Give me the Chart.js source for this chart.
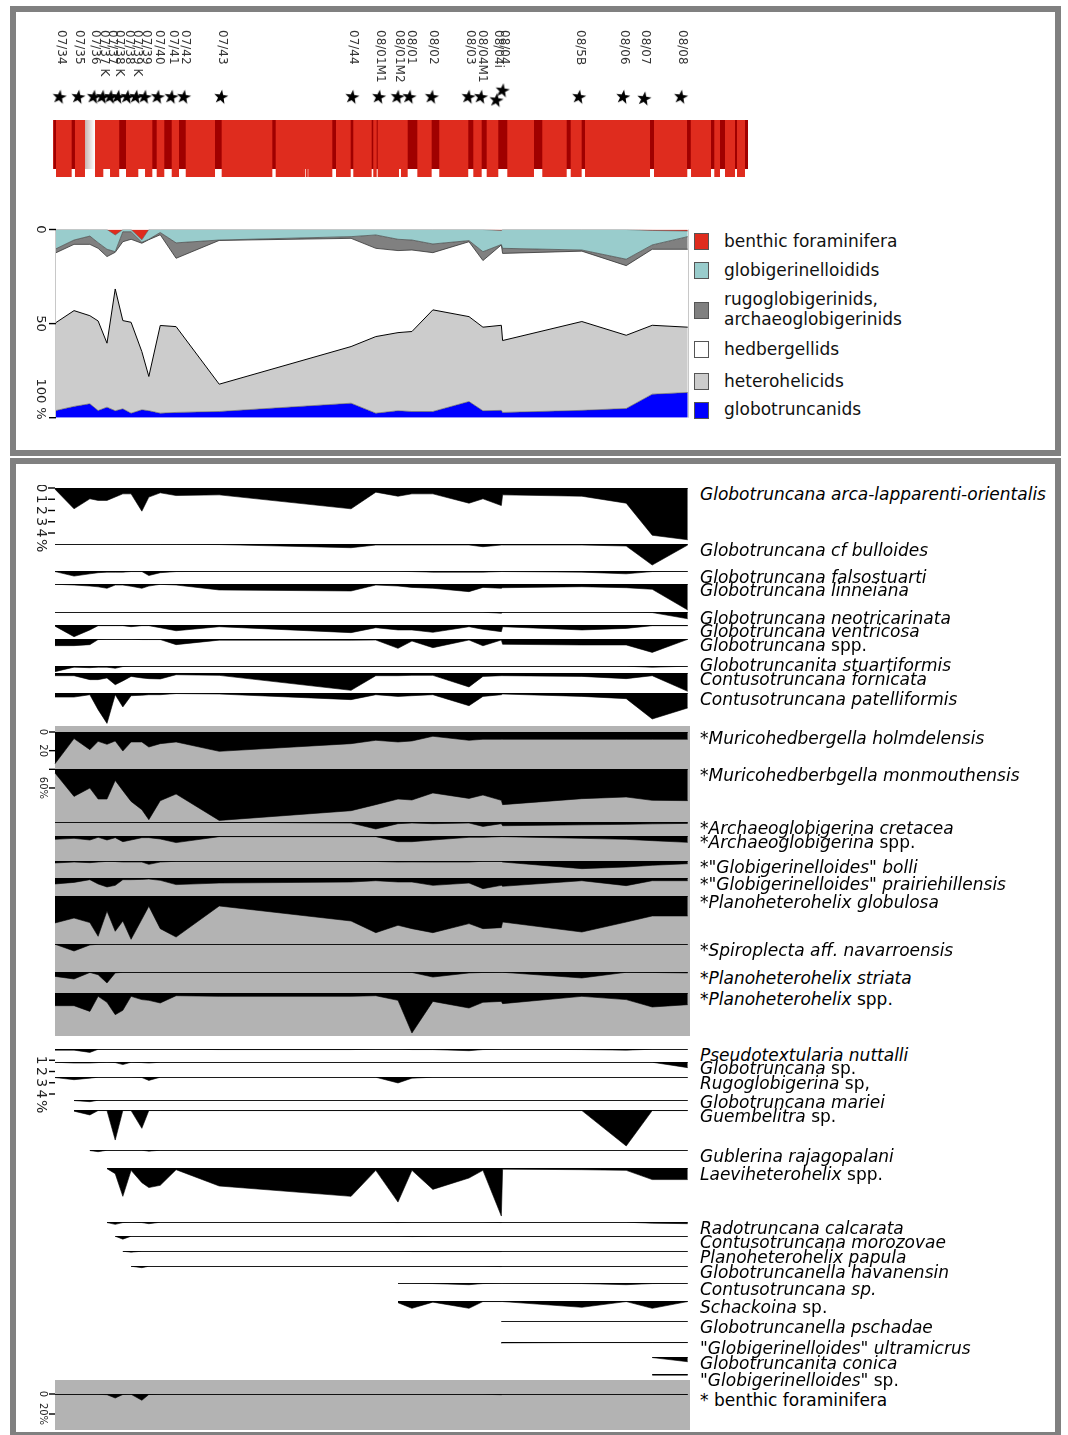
<!DOCTYPE html>
<html><head><meta charset="utf-8">
<script src="https://cdn.jsdelivr.net/npm/chart.js@4.4.1/dist/chart.umd.min.js"></script>
<style>
html,body{margin:0;padding:0;background:#fff}
body{position:relative;width:1068px;height:1435px;overflow:hidden;font-family:"DejaVu Sans",sans-serif}
.panel{position:absolute;border:6px solid #808080;box-sizing:border-box}
.bg{position:absolute;background:#b3b3b3}
canvas{position:absolute;display:block}
.lab{position:absolute;font-size:17px;line-height:18px;white-space:nowrap;color:#000}
.leg{position:absolute;font-size:17px;line-height:18px;white-space:nowrap;color:#111}
.sw{position:absolute;width:13px;height:15px;border:1px solid #555}
</style></head><body>
<div class="panel" style="left:10px;top:6px;width:1051px;height:450px"></div>
<div class="panel" style="left:10px;top:458px;width:1051px;height:980px"></div>
<div class="bg" style="left:55px;top:726px;width:635px;height:310px"></div>
<div class="bg" style="left:55px;top:1380px;width:635px;height:50px"></div>
<script>
// ================= DATA =================
const sampleNames = ['07/34','07/35','07/36','07/37 K','07/37','07/38 K','07/38','07/39 K','07/39','07/40','07/41','07/42','07/43','07/44','08/01M1','08/01M2','08/01','08/02','08/03','08/04M1','08/04i','08/04','08/5B','08/06','08/07','08/08'];
// stratigraphic position of the samples (m)
const samplePos = [0.00,0.30,0.55,0.68,0.82,0.95,1.07,1.20,1.37,1.48,1.66,1.91,2.59,4.67,5.06,5.41,5.63,5.96,6.53,6.75,7.04,7.06,8.31,9.01,9.42,9.98];
// position of the sample markers on the log (m)
const markerPos = [-0.03,0.27,0.52,0.66,0.79,0.91,1.06,1.20,1.34,1.55,1.77,1.97,2.57,4.68,5.11,5.41,5.60,5.96,6.55,6.75,7.00,7.10,8.33,9.04,9.38,9.97];

// lithology log (m)
const lithoExtent = [[-0.03,10.93]];
const marlIntervals = [[-0.027,0.016],[0.263,0.315],[1.013,1.120],[1.535,1.604],[1.724,1.841],[1.956,2.062],[2.524,2.629],[3.428,3.481],[4.374,4.432],[4.664,4.705],[4.995,5.020],[5.074,5.090],[5.563,5.715],[5.941,6.061],[6.519,6.598],[6.730,6.809],[6.992,7.134],[7.555,7.686],[8.071,8.134],[8.307,8.360],[9.385,9.448],[9.969,10.028],[10.347,10.399],[10.489,10.568],[10.726,10.757],[10.883,10.931]];
const bedIntervals = [[0.016,0.263],[0.315,0.473],[0.631,0.762],[0.868,1.013],[1.120,1.314],[1.420,1.535],[1.604,1.724],[1.841,1.956],[2.062,2.524],[2.629,3.428],[3.481,3.916],[3.924,3.948],[3.959,3.987],[3.995,4.374],[4.432,4.664],[4.705,4.995],[5.020,5.074],[5.090,5.426],[5.457,5.563],[5.715,5.941],[6.061,6.518],[6.598,6.730],[6.809,6.992],[7.134,7.555],[7.686,8.071],[8.134,8.307],[8.360,9.385],[9.448,9.973],[10.032,10.347],[10.399,10.489],[10.568,10.726],[10.757,10.883]];
const gapIntervals = [[0.473,0.631]];

// group composition (%)
const groupNames = ['benthic foraminifera','globigerinelloidids','rugoglobigerinids,|archaeoglobigerinids','hedbergellids','heterohelicids','globotruncanids'];
const benthicPct        = [0,0,0,0,0,2.9,0,0,5.5,0,0,0,0,0,0,0,0,0,0,0,0.5,0,0,0,0.5,0.8];
const globigerinelloidPct = [10.5,5.6,3.5,7.0,10.5,8.9,1.2,1.2,1.3,5.2,1.6,7.1,5.6,3.8,2.9,5.2,5.6,7.7,5.9,11.8,7.5,10.0,10.9,15.8,7.7,3.0];
const rugoArchaeoPct    = [2.1,2.3,4.4,3.0,3.9,0.3,5.3,4.0,0.5,0.2,1.2,8.2,0.2,0.9,7.1,6.0,5.3,4.6,0.6,4.7,0.2,2.7,0.6,3.4,2.3,6.7];
const hedbergellidPct   = [37.2,35.2,37.9,38.6,46.0,19.5,41.9,44.1,57.6,72.7,48.2,36.3,76.4,57.5,46.9,43.6,43.3,30.4,39.8,35.4,42.7,46.3,37.4,37.0,40.4,41.4];
const heterohelicidPct  = [46.5,50.9,46.8,47.6,34.0,64.7,46.9,48.3,30.9,18.2,46.6,45.6,14.5,30.1,40.7,41.5,42.5,54.0,45.1,44.4,45.2,38.2,47.2,38.9,36.6,34.7];
const globotruncanidPct = [3.7,6.0,7.4,3.8,5.6,3.7,4.7,2.4,4.2,3.7,2.4,2.8,3.3,7.7,2.4,3.7,3.3,3.3,8.6,3.7,3.9,2.8,3.9,4.9,12.5,13.4];

// species abundances (%), null = not present
const gtArca        = [0.1,1.85,0.96,1.1,1.1,0.8,0.52,0.52,2.06,0.81,0.43,0.67,0.61,1.85,0.37,0.73,0.52,0.52,1.35,0.96,1.56,0.61,0.73,1.35,4.2,4.6];
const gtBulloides   = [0.03,0.03,0.03,0.03,0.03,0.03,0.03,0.03,0.03,0.03,0.03,0.03,0.05,0.33,0.09,0.09,0.09,0.09,0.09,0.24,0.09,0.09,0.09,0.18,1.87,0.09];
const gtFalsostuarti= [0.05,0.45,0.25,0.15,0.1,0.1,0.1,0.05,0.05,0.4,0.15,0.05,0.03,0.03,0.03,0.03,0.05,0.1,0.1,0.1,0.05,0.05,0.1,0.25,0.05,0.03];
const gtLinneiana   = [0.02,0.09,0.18,0.25,0.38,0.09,0.09,0.2,0.38,0.18,0.03,0.09,0.53,0.62,0.09,0.18,0.3,0.38,0.68,0.3,0.38,0.33,0.24,0.33,0.47,2.31];
const gtNeotricarinata = [0.02,0.02,0.02,0.02,0.02,0.02,0.02,0.02,0.02,0.02,0.02,0.02,0.02,0.02,0.02,0.02,0.02,0.02,0.02,0.02,0.1,0.02,0.02,0.02,0.05,0.6];
const gtVentricosa  = [0.1,1.04,0.44,0.06,0.06,0.06,0.06,0.15,0.06,0.06,0.24,0.51,0.15,0.68,0.24,0.44,0.44,0.65,0.15,0.38,0.59,0.15,0.44,0.3,0.06,0.06];
const gtSpp         = [0.59,0.59,0.5,0.05,0.03,0.03,0.03,0.03,0.05,0.05,0.05,0.5,0.1,0.1,0.09,0.83,0.18,0.77,0.09,0.6,0.09,0.47,0.53,0.53,1.19,0.03];
const gtaStuartiformis = [0.5,0.1,0.15,0.1,0.1,0.2,0.05,0.02,0.02,0.02,0.02,0.02,0.02,0.02,0.02,0.02,0.02,0.02,0.02,0.02,0.02,0.02,0.02,0.02,0.1,0.02];
const ctFornicata   = [0.24,0.24,0.59,0.59,0.44,1.04,0.7,0.3,0.44,0.5,0.53,0.15,0.21,1.54,0.24,0.24,0.21,0.21,1.24,0.3,0.24,0.24,0.3,0.5,0.24,1.63];
const ctPatelliformis = [0.36,0.36,0.15,1.48,2.7,0.15,1.24,0.24,0.2,0.15,0.15,0.05,0.09,0.59,0.15,0.3,0.24,0.15,1.13,0.3,0.15,0.09,0.3,0.5,2.31,1.33];

const muHolmdelensis = [34,7.1,18.9,10,13.2,9.6,20.4,10.7,10.7,16.1,12.5,10.7,20.7,12.5,8.9,10.7,9.6,4.6,8.9,7.8,7.8,7.8,7.8,7.8,7.8,7.8];
const muMonmouthensis = [4.3,29.4,20.4,32.2,32.2,12.2,23.2,34.7,43.6,54.3,34,26.8,55.1,44.7,38.2,32.2,33.2,25.7,31.5,27.9,33.6,38.2,31.8,30,33.6,33.9];
const arCretacea    = [0.3,0.3,0.3,0.3,0.3,0.3,0.3,0.3,0.3,0.3,0.3,0.3,0.3,1.1,7.5,1.8,1.1,1.8,1.1,4.7,1.8,4.0,3.0,2.5,2.0,1.5];
const arSpp         = [3.6,2.5,4.3,1.4,4.3,1.8,6.1,4.3,1.8,1.8,3.2,7.1,0.7,0.7,0.7,6.1,6.1,4.3,1.4,1.4,0.7,0.7,2.5,3.6,5.0,6.8];
const glBolli       = [2.1,1.1,1.8,1.1,0.4,0.6,1.1,1.1,1.1,3.6,1.1,0.3,0.3,0.3,0.5,1.1,1.0,1.1,1.1,0.3,0.4,1.1,8.2,6.4,4.6,2.9];
const glPrairiehillensis = [6.4,4.7,1.8,6.4,9.6,7.9,1.8,1.8,1.5,1.1,2.5,7.1,5.4,4.3,2.9,4.3,4.3,7.9,5.4,11.4,7.9,8.9,2.9,8.2,2.9,2.9];
const phGlobulosa   = [28.9,23.6,28.5,43.2,16.1,37.8,26.8,46.4,25,11,35,44,10.7,26.8,39.3,31.4,35,39.3,29.6,35,33.9,27.9,38.6,27.9,21.4,21.4];
const spNavarroensis = [0.3,7.5,1.0,0.3,0.3,0.3,0.3,0.3,0.3,0.3,0.3,0.3,0.3,0.3,0.3,0.3,0.3,0.3,0.3,0.3,0.3,0.3,0.3,0.3,0.3,0.3];
const phStriata     = [4.7,7.5,0.5,2.9,11.8,1.0,0.3,0.3,0.3,0.3,0.3,0.3,0.3,0.3,0.3,0.3,0.5,5.4,1.0,0.5,0.3,0.3,6.4,0.3,0.5,1.0];
const phSpp         = [13.6,13.6,19.7,3.6,10,23.2,18.6,3.6,7.1,7.9,10.7,2.9,3.6,3.6,2.9,7.9,42.9,9,16.1,10,9,11.4,3.6,7.1,15,12.5];

const psNuttalli    = [0.1,0.1,0.3,0.03,0.02,0.02,0.02,0.02,0.02,0.02,0.02,0.02,0.05,0.05,0.02,0.02,0.05,0.05,0.15,0.05,0.02,0.02,0.05,0.1,0.02,0.02];
const gtSp          = [0.02,0.09,0.09,0.05,0.02,0.05,0.23,0.02,0.05,0.09,0.02,0.02,0.02,0.02,0.02,0.02,0.02,0.02,0.02,0.02,0.02,0.02,0.02,0.02,0.02,0.5];
const rgSp          = [0.05,0.24,0.1,0.02,0.02,0.02,0.02,0.02,0.05,0.3,0.02,0.02,0.02,0.02,0.02,0.53,0.1,0.02,0.02,0.02,0.02,0.02,0.02,0.02,0.02,0.02];
const gtMariei      = [null,0.05,0.15,0.02,0.02,0.02,0.02,0.02,0.02,0.02,0.02,0.02,0.02,0.02,0.02,0.02,0.02,0.02,0.02,0.02,0.02,0.02,0.02,0.02,0.02,0.02];
const guSp          = [null,0.1,0.44,0.05,0.05,2.67,0.05,0.05,1.63,0.05,0.05,0.05,0.05,0.05,0.05,0.05,0.05,0.05,0.05,0.05,0.05,0.05,0.05,3.2,0.05,0.05];
const guRajagopalani= [null,null,0.05,0.15,0.02,0.02,0.02,0.02,0.02,0.1,0.02,0.02,0.02,0.02,0.02,0.02,0.02,0.02,0.02,0.02,0.02,0.02,0.02,0.02,0.02,0.02];
const laSpp         = [null,null,null,null,0.06,0.5,2.52,0.21,1.3,1.74,1.54,0.15,1.6,2.52,0.21,3.03,0.21,1.9,0.89,0.21,4.27,0.1,0.15,0.21,1.03,1.03];
const raCalcarata   = [null,null,null,null,0.05,0.21,0.05,0.02,0.05,0.15,0.02,0.02,0.02,0.02,0.02,0.05,0.02,0.02,0.02,0.02,0.05,0.02,0.02,0.02,0.1,0.15];
const ctMorozovae   = [null,null,null,null,null,0.02,0.28,0.02,0.02,0.02,0.02,0.02,0.02,0.02,0.02,0.02,0.05,0.02,0.02,0.02,0.02,0.02,0.02,0.02,0.02,0.02];
const phPapula      = [null,null,null,null,null,null,0.02,0.1,0.02,0.02,0.02,0.02,0.02,0.02,0.02,0.02,0.05,0.05,0.05,0.05,0.05,0.02,0.02,0.02,0.02,0.02];
const gnHavanensin  = [null,null,null,null,null,null,null,0.02,0.15,0.02,0.02,0.02,0.02,0.02,0.02,0.02,0.02,0.02,0.02,0.02,0.05,0.02,0.02,0.02,0.02,0.02];
const ctSp          = [null,null,null,null,null,null,null,null,null,null,null,null,null,null,null,0.02,0.02,0.05,0.15,0.05,0.02,0.02,0.05,0.15,0.05,0.02];
const scSp          = [null,null,null,null,null,null,null,null,null,null,null,null,null,null,null,0.15,0.65,0.1,0.65,0.05,0.05,0.05,0.56,0.05,0.65,0.05];
const gnPschadae    = [null,null,null,null,null,null,null,null,null,null,null,null,null,null,null,null,null,null,null,null,0.02,0.02,0.02,0.02,0.02,0.02];
const glUltramicrus = [null,null,null,null,null,null,null,null,null,null,null,null,null,null,null,null,null,null,null,null,0.1,0.08,0.05,0.05,0.05,0.05];
const gtaConica     = [null,null,null,null,null,null,null,null,null,null,null,null,null,null,null,null,null,null,null,null,null,null,null,null,0.05,0.42];
const glSp          = [null,null,null,null,null,null,null,null,null,null,null,null,null,null,null,null,null,null,null,null,null,null,null,null,0.1,0.1];
const benthicForams = [0.3,0.3,0.3,0.3,0.7,4.0,0.5,0.3,6.3,0.5,0.3,0.3,0.3,0.3,0.3,0.3,0.3,0.3,0.3,0.3,0.7,0.3,0.3,0.3,0.3,0.5];

// tick labels
const tickTop = [0,50,100];
const tickA = [0,1,2,3,4];
const tickB = [0,20,40,60];
const tickC = [1,2,3,4];
const tickD = [0,20];

// ================= LAYOUT / STYLE =================
const X0 = 55, PXM = 63.4;           // page px of position 0, px per metre
const PX_PER_PCT = {A:11.25, B:0.933, D:1.0};
const RED = '#df2c1e', DARKRED = '#a00000';
const starLift = [0.45,0.45,0.45,0.45,0.45,0.45,0.45,0.45,0.45,0.45,0.45,0.45,0.45,0.45,0.45,0.45,0.45,0.45,0.45,0.45,0.2,0.95,0.45,0.45,0.32,0.45];

const AXES = {
  top:{ticks:tickTop, from:49, to:56, lx:40.5, font:'13px "DejaVu Sans"', vlines:true,
       labels:[{v:0,t:'0'},{v:50,t:'50'},{v:100,t:'100 %',a:'end',o:2}]},
  A:{ticks:tickA, from:48, to:55, lx:41, font:'14px "DejaVu Sans"',
       labels:tickA.map(v=>({v,t:String(v)})).concat([{v:4,t:'%',a:'start',o:6}])},
  B:{ticks:tickB, from:49, to:55, lx:42.5, font:'10px "DejaVu Sans"',
       labels:[{v:0,t:'0'},{v:20,t:'20'},{v:60,t:'60%'}]},
  C:{ticks:tickC, from:49, to:55, lx:41, font:'14px "DejaVu Sans"',
       labels:tickC.map(v=>({v,t:String(v)})).concat([{v:4,t:'%',a:'start',o:6}])},
  D:{ticks:tickD, from:49, to:55, lx:42.5, font:'10px "DejaVu Sans"',
       labels:[{v:0,t:'0'},{v:20,t:'20%'}]}
};
const AXIS_ROOM = {A:66, B:72, C:66, D:38};

const tracks = [
 {html:'<i>Globotruncana arca-lapparenti-orientalis</i>', v:gtArca, base:487.5, s:'A', axis:'A'},
 {html:'<i>Globotruncana cf bulloides</i>', v:gtBulloides, base:544, s:'A'},
 {html:'<i>Globotruncana falsostuarti</i>', v:gtFalsostuarti, base:570.7, s:'A'},
 {html:'<i>Globotruncana linneiana</i>', v:gtLinneiana, base:584, s:'A'},
 {html:'<i>Globotruncana neotricarinata</i>', v:gtNeotricarinata, base:611.7, s:'A'},
 {html:'<i>Globotruncana ventricosa</i>', v:gtVentricosa, base:625, s:'A'},
 {html:'<i>Globotruncana</i> spp.', v:gtSpp, base:639, s:'A'},
 {html:'<i>Globotruncanita stuartiformis</i>', v:gtaStuartiformis, base:666, s:'A', ly:665},
 {html:'<i>Contusotruncana fornicata</i>', v:ctFornicata, base:673.3, s:'A'},
 {html:'<i>Contusotruncana patelliformis</i>', v:ctPatelliformis, base:693.3, s:'A'},
 {html:'*<i>Muricohedbergella holmdelensis</i>', v:muHolmdelensis, base:731.7, s:'B', axis:'B'},
 {html:'*<i>Muricohedberbgella monmouthensis</i>', v:muMonmouthensis, base:769.3, s:'B'},
 {html:'*<i>Archaeoglobigerina cretacea</i>', v:arCretacea, base:822.3, s:'B'},
 {html:'*<i>Archaeoglobigerina</i> spp.', v:arSpp, base:836, s:'B'},
 {html:'*"<i>Globigerinelloides</i>" <i>bolli</i>', v:glBolli, base:860.7, s:'B'},
 {html:'*"<i>Globigerinelloides</i>" <i>prairiehillensis</i>', v:glPrairiehillensis, base:878.3, s:'B'},
 {html:'*<i>Planoheterohelix globulosa</i>', v:phGlobulosa, base:895.7, s:'B'},
 {html:'*<i>Spiroplecta aff. navarroensis</i>', v:spNavarroensis, base:944, s:'B'},
 {html:'*<i>Planoheterohelix striata</i>', v:phStriata, base:972.3, s:'B'},
 {html:'*<i>Planoheterohelix</i> spp.', v:phSpp, base:993.3, s:'B'},
 {html:'<i>Pseudotextularia nuttalli</i>', v:psNuttalli, base:1049, s:'A', axis:'C'},
 {html:'<i>Globotruncana</i> sp.', v:gtSp, base:1061.7, s:'A'},
 {html:'<i>Rugoglobigerina</i> sp,', v:rgSp, base:1077.3, s:'A'},
 {html:'<i>Globotruncana mariei</i>', v:gtMariei, base:1100, s:'A', ly:1102},
 {html:'<i>Guembelitra</i> sp.', v:guSp, base:1110, s:'A'},
 {html:'<i>Gublerina rajagopalani</i>', v:guRajagopalani, base:1150, s:'A'},
 {html:'<i>Laeviheterohelix</i> spp.', v:laSpp, base:1167.7, s:'A'},
 {html:'<i>Radotruncana calcarata</i>', v:raCalcarata, base:1221.7, s:'A'},
 {html:'<i>Contusotruncana morozovae</i>', v:ctMorozovae, base:1236, s:'A'},
 {html:'<i>Planoheterohelix papula</i>', v:phPapula, base:1250.7, s:'A'},
 {html:'<i>Globotruncanella havanensin</i>', v:gnHavanensin, base:1265.7, s:'A'},
 {html:'<i>Contusotruncana sp.</i>', v:ctSp, base:1283.3, s:'A'},
 {html:'<i>Schackoina</i> sp.', v:scSp, base:1301, s:'A'},
 {html:'<i>Globotruncanella pschadae</i>', v:gnPschadae, base:1321, s:'A'},
 {html:'"<i>Globigerinelloides</i>" <i>ultramicrus</i>', v:glUltramicrus, base:1341.7, s:'A'},
 {html:'<i>Globotruncanita conica</i>', v:gtaConica, base:1356.7, s:'A'},
 {html:'"<i>Globigerinelloides</i>" sp.', v:glSp, base:1374, s:'A'},
 {html:'* benthic foraminifera', v:benthicForams, base:1394.3, s:'D', axis:'D'}
];

// ================= HELPERS =================
Chart.defaults.font.family = '"DejaVu Sans", sans-serif';

const axisPlugin = {
  id:'axisTicks',
  afterDraw(chart, args, opts){
    if(!opts || !opts.key) return;
    const spec = AXES[opts.key];
    const ctx = chart.ctx, ys = chart.scales.y, xs = chart.scales.x;
    const L = parseFloat(chart.canvas.style.left);
    ctx.save();
    if (spec.vlines){
      ctx.strokeStyle = '#c8c8c8'; ctx.lineWidth = 1;
      [samplePos[0], samplePos[samplePos.length-1]].forEach(p=>{
        const px = Math.round(xs.getPixelForValue(p))+0.5;
        ctx.beginPath(); ctx.moveTo(px, ys.getPixelForValue(0)); ctx.lineTo(px, ys.getPixelForValue(100)); ctx.stroke();
      });
    }
    ctx.strokeStyle = '#000'; ctx.lineWidth = 1.4;
    spec.ticks.forEach(v=>{
      const py = ys.getPixelForValue(v);
      ctx.beginPath(); ctx.moveTo(spec.from - L, py); ctx.lineTo(spec.to - L, py); ctx.stroke();
    });
    ctx.fillStyle = '#222'; ctx.font = spec.font;
    spec.labels.forEach(it=>{
      const py = ys.getPixelForValue(it.v) + (it.o||0);
      ctx.save(); ctx.translate(spec.lx - L, py); ctx.rotate(Math.PI/2);
      ctx.textAlign = it.a || 'center'; ctx.textBaseline = 'middle';
      ctx.fillText(it.t, 0, 0); ctx.restore();
    });
    ctx.restore();
  }
};
const sampleLabelPlugin = {
  id:'sampleLabels',
  afterDraw(chart, args, opts){
    if(!opts || !opts.on) return;
    const ctx = chart.ctx, xs = chart.scales.x;
    const T = parseFloat(chart.canvas.style.top);
    ctx.save(); ctx.fillStyle = '#333'; ctx.font = '12px "DejaVu Sans"';
    ctx.textAlign = 'left'; ctx.textBaseline = 'middle';
    markerPos.forEach((m,i)=>{
      ctx.save(); ctx.translate(xs.getPixelForValue(m)+1.5, opts.top - T); ctx.rotate(Math.PI/2);
      ctx.fillText(sampleNames[i], 0, 0); ctx.restore();
    });
    ctx.restore();
  }
};
Chart.register(axisPlugin, sampleLabelPlugin);

function addCanvas(left, top, width, height){
  const c = document.createElement('canvas');
  c.width = width; c.height = height;
  c.style.left = left+'px'; c.style.top = top+'px';
  c.style.width = width+'px'; c.style.height = height+'px';
  document.body.appendChild(c);
  return c;
}
function opts(left, width, yOpts, padding, plugins){
  return {
    responsive:false, animation:false, events:[], devicePixelRatio:1,
    layout:{padding:Object.assign({left:0,right:0,top:0,bottom:0}, padding||{})},
    scales:{
      x:{type:'linear', display:false, min:(left-X0)/PXM, max:(left+width-X0)/PXM},
      y:Object.assign({type:'linear', display:false}, yOpts)
    },
    plugins:Object.assign({legend:{display:false}, tooltip:{enabled:false}}, plugins||{}),
    elements:{point:{radius:0, hoverRadius:0, hitRadius:0}, line:{tension:0}}
  };
}
function rectPoints(intervals){
  const pts = [];
  intervals.forEach(([a,b])=>{ pts.push({x:a,y:0},{x:a,y:1},{x:b,y:1},{x:b,y:0}); });
  return pts;
}
function addLabel(cls, html, x, yc){
  const d = document.createElement('div'); d.className = cls; d.innerHTML = html;
  d.style.left = x+'px'; d.style.top = (yc-9)+'px';
  document.body.appendChild(d);
}

// ================= SAMPLE LABELS + MARKERS =================
const STAR = (()=>{
  const c = document.createElement('canvas'); c.width = 16; c.height = 16;
  const g = c.getContext('2d'); g.fillStyle = '#000'; g.beginPath();
  for (let i=0;i<10;i++){ const r = i%2 ? 3.0 : 7.5; const a = -Math.PI/2 + i*Math.PI/5 + 0.15;
    g.lineTo(8 + r*Math.cos(a), 8 + r*Math.sin(a)); }
  g.closePath(); g.fill(); return c;
})();
(function(){
  const L=20, W=700, T=20, H=90;
  const c = addCanvas(L,T,W,H);
  new Chart(c, {type:'scatter', data:{datasets:[{
      data: markerPos.map((x,i)=>({x, y:starLift[i]})), pointStyle:STAR, pointRadius:6, clip:false,
      backgroundColor:'#000', borderColor:'#000'}]},
    options: opts(L,W,{min:0,max:1},{top:70,bottom:4},{sampleLabels:{on:true, top:30}})});
})();

// ================= LITHOLOGY =================
(function(){
  const L=53, W=695;
  const c1 = addCanvas(L,120,W,57);
  new Chart(c1, {type:'line', data:{datasets:[
    {data:rectPoints(bedIntervals), fill:'origin', backgroundColor:RED, borderColor:'rgba(0,0,0,0)', borderWidth:0}
  ]}, options: opts(L,W,{min:0,max:1})});
  const c2 = addCanvas(L,120,W,49);
  new Chart(c2, {type:'line', data:{datasets:[
    {data:rectPoints(gapIntervals), fill:'origin', borderColor:'rgba(0,0,0,0)', borderWidth:0,
     backgroundColor:(ctx)=>{ const ch = ctx.chart; if(!ch.chartArea) return '#eee';
       const xs = ch.scales.x; const g = ch.ctx.createLinearGradient(xs.getPixelForValue(gapIntervals[0][0]),0,xs.getPixelForValue(gapIntervals[0][1]),0);
       g.addColorStop(0,'#c9b3b1'); g.addColorStop(0.8,'#f6f2f2'); g.addColorStop(1,'#ffffff'); return g; }},
    {data:rectPoints(marlIntervals), fill:'origin', backgroundColor:DARKRED, borderColor:'rgba(0,0,0,0)', borderWidth:0},
    {data:rectPoints(lithoExtent), fill:'origin', backgroundColor:RED, borderColor:'rgba(0,0,0,0)', borderWidth:0}
  ]}, options: opts(L,W,{min:0,max:1})});
})();

// ================= GROUP COMPOSITION =================
(function(){
  const L=20, W=672, T=224, H=200;
  const c = addCanvas(L,T,W,H);
  const series = [benthicPct, globigerinelloidPct, rugoArchaeoPct, hedbergellidPct, heterohelicidPct, globotruncanidPct];
  const fills = [RED,'#99cccc','#808080','#ffffff','#cccccc','#0000ff'];
  const lines = ['#555','#444','#333','#000','#555','rgba(0,0,0,0)'];
  const lw = [0.6,0.7,0.8,1.0,0.6,0];
  new Chart(c, {type:'line', data:{datasets: series.map((s,k)=>({
      data: samplePos.map((x,i)=>({x, y:s[i]})), fill: k===0 ? 'origin' : '-1',
      backgroundColor: fills[k], borderColor: lines[k], borderWidth: lw[k] }))},
    options: opts(L,W,{min:0,max:100,reverse:true,stacked:true},{top:5.5,bottom:6.3},{axisTicks:{key:'top'}})});
  const sw = [241,270,310,349,381,410];
  const tl = [[241],[270],[299,319],[349],[381],[409]];
  groupNames.forEach((n,k)=>{
    const s = document.createElement('div'); s.className='sw'; s.style.background = fills[k];
    s.style.left='694px'; s.style.top=(sw[k]-8)+'px'; document.body.appendChild(s);
    n.split('|').forEach((part,j)=> addLabel('leg', part, 724, tl[k][j]));
  });
})();

// ================= SPECIES TRACKS =================
tracks.forEach(t=>{
  const sc = PX_PER_PCT[t.s];
  const maxV = Math.max(...t.v.filter(v=>v!=null));
  const room = Math.max(maxV*sc + 6, t.axis ? AXIS_ROOM[t.axis] : 0, 8);
  const padTop = 3, L = 20, W = 672;
  const H = Math.ceil(room + padTop);
  const c = addCanvas(L, t.base - padTop, W, H);
  new Chart(c, {type:'line', data:{datasets:[
      {data: samplePos.map((x,i)=>({x, y: t.v[i]==null ? null : 0})), borderColor:'#000', borderWidth:1.3, fill:false},
      {data: samplePos.map((x,i)=>({x, y: t.v[i]})), borderColor:'#000', borderWidth:0.6, backgroundColor:'#000', fill:'origin'}
    ]},
    options: opts(L, W, {min:0, max:(H-padTop)/sc, reverse:true}, {top:padTop}, {axisTicks: t.axis ? {key:t.axis} : false})});
  addLabel('lab', t.html, 700, t.ly != null ? t.ly : t.base + 6);
});
</script></body></html>
